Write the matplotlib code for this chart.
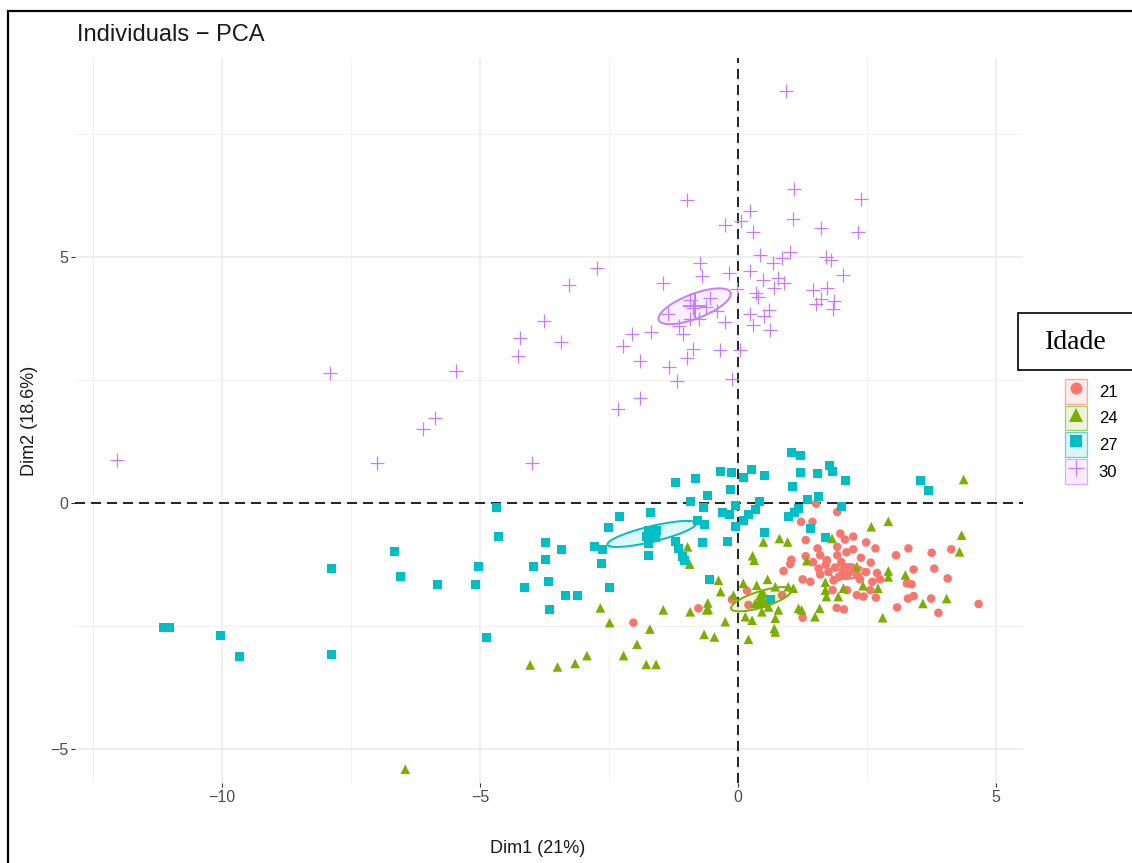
import numpy as np
import matplotlib
matplotlib.use("Agg")
import matplotlib.pyplot as plt
from matplotlib.patches import Rectangle
from matplotlib.lines import Line2D
from matplotlib.legend_handler import HandlerTuple
from matplotlib.colors import to_rgba

plt.rcParams["font.family"] = ["Liberation Sans", "DejaVu Sans"]

# --- data (PCA individual coordinates) ---
groups = ["21", "24", "27", "30"]

x21 = [1.51, 1.92, 1.22, 1.44, 1.98, 2.07, 2.23, 1.31, 1.54, 1.92,
       2.23, 2.48, 2.66, 3.30, 3.75, 4.13, 3.06, 1.59, 1.72, 1.92,
       2.38, 2.57, 1.31, 1.03, 1.01, 0.88, 1.56, 1.59, 1.88, 2.20,
       2.48, 2.69, 2.75, 3.80, 3.40, 4.06, 3.27, 3.36, 1.25, 1.40,
       1.85, 2.36, 1.83, 2.11, 2.30, 2.43, 2.67, 2.56, 3.08, 3.29,
       3.40, 3.74, 3.88, 4.66, 1.91, 2.05, 1.25, 0.85, 0.17, 0.20,
       -0.77, -0.12, -2.03, 1.70, 2.00, 1.75, 2.30, 1.95, 2.10, 1.45,
       2.60]
y21 = [-0.01, -0.18, -0.38, -0.38, -0.62, -0.74, -0.68, -0.75, -0.92, -0.89,
       -0.94, -0.80, -0.92, -0.92, -1.01, -0.94, -1.06, -1.06, -1.16, -1.06,
       -1.11, -1.21, -1.08, -1.15, -1.24, -1.38, -1.33, -1.45, -1.31, -1.31,
       -1.40, -1.42, -1.55, -1.33, -1.35, -1.53, -1.63, -1.65, -1.55, -1.60,
       -1.57, -1.55, -1.77, -1.77, -1.87, -1.90, -1.92, -1.77, -2.12, -1.94,
       -1.89, -1.94, -2.23, -2.05, -2.13, -2.16, -2.33, -1.87, -1.78, -2.07,
       -2.14, -1.96, -2.43, -1.25, -1.20, -1.40, -1.45, -1.50, -1.00, -1.20,
       -1.60]

x24 = [-6.45, -4.03, -3.50, -3.16, -2.93, -2.67, -2.49, -2.22, -1.96, -1.78,
       -1.59, -1.71, -1.45, -0.93, -0.98, -0.94, -0.59, -0.58, -0.38, -0.34,
       -0.09, -0.25, -0.66, -0.46, 0.20, 0.28, 0.31, 0.49, 0.80, 0.96,
       0.10, 0.36, 0.57, 0.72, 0.97, 1.07, 0.43, 0.33, 0.59, 0.46,
       0.78, 0.14, 0.27, 0.72, 0.70, 0.72, 1.17, 1.23, -0.61, 4.37,
       2.91, 2.58, 4.33, 4.29, 1.82, 1.33, 2.91, 3.24, 2.91, 2.30,
       1.69, 1.69, 1.71, 1.94, 2.04, 2.42, 2.71, 4.04, 3.58, 2.80,
       1.58, 1.49, 0.49]
y24 = [-5.41, -3.29, -3.33, -3.26, -3.10, -2.13, -2.43, -3.10, -2.87, -3.28,
       -3.28, -2.56, -2.17, -2.21, -0.89, -1.24, -2.03, -2.16, -1.57, -1.80,
       -1.87, -2.41, -2.67, -2.72, -2.77, -1.07, -1.16, -0.79, -0.72, -0.79,
       -1.63, -1.67, -1.55, -1.70, -1.70, -1.73, -1.87, -2.04, -2.11, -2.21,
       -2.17, -2.31, -2.38, -2.34, -2.55, -2.62, -2.14, -2.17, -2.17, 0.48,
       -0.37, -0.48, -0.65, -0.99, -0.72, -1.17, -1.38, -1.46, -1.50, -1.29,
       -1.61, -1.77, -1.90, -1.90, -1.73, -1.68, -1.73, -1.94, -2.04, -2.33,
       -2.14, -2.31, -1.84]

x27 = [-11.14, -11.01, -10.03, -9.66, -7.87, -7.87, -6.65, -6.55, -5.82, -5.03,
       -5.08, -4.88, -4.68, -4.65, -4.14, -3.97, -3.74, -3.74, -3.42, -3.68,
       -3.66, -3.34, -3.11, -2.78, -2.62, -2.64, -2.49, -2.51, -2.29, -1.70,
       -1.74, -1.74, -1.21, -0.83, -0.35, -0.12, -0.14, -0.59, -0.92, -0.68,
       -0.79, -0.66, -1.21, -1.15, -1.08, -1.04, -0.70, -0.21, -0.30, -0.17,
       -0.06, -0.06, 0.10, 0.25, 0.52, 0.10, 0.21, 0.33, 0.41, 0.52,
       -0.56, 1.04, 1.20, 1.21, 1.54, 1.78, 1.82, 2.09, 1.05, 1.35,
       1.56, 1.17, 1.09, 0.97, 2.01, 1.40, 1.69, 3.53, 3.69, 0.62,
       -1.77, -1.58]
y27 = [-2.53, -2.53, -2.70, -3.11, -1.33, -3.08, -0.98, -1.50, -1.65, -1.29,
       -1.65, -2.73, -0.09, -0.68, -1.71, -1.29, -1.15, -0.80, -0.94, -1.60,
       -2.16, -1.87, -1.88, -0.89, -0.94, -1.23, -1.71, -0.49, -0.27, -0.19,
       -0.82, -1.07, 0.42, 0.51, 0.64, 0.62, 0.28, 0.16, 0.04, -0.09,
       -0.35, -0.43, -0.79, -0.93, -1.09, -1.16, -0.80, -0.79, -0.19, -0.24,
       -0.04, -0.48, 0.52, 0.68, 0.57, -0.35, -0.24, -0.13, 0.03, -0.60,
       -1.55, 1.03, 0.96, 0.62, 0.60, 0.77, 0.64, 0.47, 0.33, 0.07,
       0.13, -0.11, -0.20, -0.28, -0.07, -0.51, -0.70, 0.45, 0.26, -1.96,
       -0.68, -0.55]

x30 = [-12.03, -7.91, -7.00, -6.10, -5.87, -5.47, -4.26, -4.22, -4.00, -3.76,
       -3.44, -3.28, -2.74, -2.32, -2.23, -2.06, -1.91, -1.90, -1.69, -1.45,
       -1.35, -1.34, -1.18, -1.14, -1.06, -0.99, -0.99, -0.94, -0.93, -0.87,
       -0.87, -0.75, -0.74, -0.70, -0.62, -0.54, -0.41, -0.35, -0.25, -0.25,
       -0.18, -0.12, -0.03, 0.04, 0.06, 0.23, 0.23, 0.23, 0.28, 0.29,
       0.35, 0.39, 0.42, 0.49, 0.51, 0.59, 0.62, 0.67, 0.70, 0.78,
       0.85, 0.88, 0.93, 1.01, 1.06, 1.09, 1.46, 1.51, 1.61, 1.61,
       1.70, 1.73, 1.80, 1.83, 1.85, 2.03, 2.32, 2.39]
y30 = [0.87, 2.65, 0.81, 1.50, 1.74, 2.69, 2.99, 3.35, 0.81, 3.71,
       3.27, 4.43, 4.79, 1.92, 3.19, 3.43, 2.89, 2.14, 3.48, 4.47,
       3.84, 2.77, 2.49, 3.60, 3.43, 6.17, 2.95, 4.14, 3.75, 3.96,
       3.14, 3.75, 4.88, 4.61, 3.99, 4.18, 3.91, 3.11, 5.66, 3.69,
       4.68, 2.53, 4.36, 3.11, 5.73, 5.93, 4.71, 3.84, 3.62, 5.52,
       4.28, 4.19, 5.05, 4.53, 3.80, 3.92, 3.52, 4.88, 4.37, 4.57,
       4.99, 4.48, 8.37, 5.10, 5.77, 6.38, 4.33, 4.04, 5.60, 4.16,
       5.01, 4.37, 4.94, 3.94, 4.11, 4.63, 5.52, 6.19]

COORDS = {"21": (x21, y21), "24": (x24, y24), "27": (x27, y27), "30": (x30, y30)}
COLOR = {"21": "#F8766D", "24": "#7CAE00", "27": "#00BFC4", "30": "#C77CFF"}
MARKER = {"21": "o", "24": "^", "27": "s", "30": "+"}
SIZE = {"21": 38, "24": 48, "27": 42, "30": 115}
LEGEND_MS = {"21": 8.6, "24": 9.5, "27": 8.2, "30": 11}

W, H = 1132, 863
fig = plt.figure(figsize=(W / 100, H / 100), dpi=100)
L, R, T, B = 75, 1023, 58, 783
ax = fig.add_axes([L / W, 1 - B / H, (R - L) / W, (B - T) / H])


def conf_ellipse(x, y, level_t=np.sqrt(5.991), n=200):
    """Confidence ellipse of the group mean (cov / n)."""
    x, y = np.asarray(x), np.asarray(y)
    cov = np.cov(x, y) / len(x)
    vals, vecs = np.linalg.eigh(cov)
    th = np.linspace(0, 2 * np.pi, n)
    circ = np.vstack([np.cos(th), np.sin(th)])
    pts = vecs @ (np.sqrt(vals)[:, None] * circ) * level_t
    return x.mean() + pts[0], y.mean() + pts[1]


ax.axhline(0, color="black", lw=1.2, ls=(0, (6, 3.6)), zorder=1.5)
ax.axvline(0, color="black", lw=1.2, ls=(0, (6, 3.6)), zorder=1.5)

for g in groups:
    x, y = COORDS[g]
    c = COLOR[g]
    if MARKER[g] == "+":
        ax.scatter(x, y, s=SIZE[g], marker="+", color=c, linewidths=0.9, zorder=3)
    else:
        ax.scatter(x, y, s=SIZE[g], marker=MARKER[g], color=c, edgecolors="none", zorder=3)

for g in groups:
    x, y = COORDS[g]
    c = COLOR[g]
    ex, ey = conf_ellipse(x, y)
    ax.fill(ex, ey, color=c, alpha=0.12, lw=0, zorder=4)
    ax.plot(ex, ey, color=c, lw=1.4, zorder=4)
    if MARKER[g] == "+":
        ax.scatter(np.mean(x), np.mean(y), s=SIZE[g] * 2.4, marker="+", color=c,
                   linewidths=1.4, zorder=5)
    else:
        ax.scatter(np.mean(x), np.mean(y), s=SIZE[g] * 3, marker=MARKER[g], color=c,
                   edgecolors="none", zorder=5)

ax.set_xlim(-12.85, 5.52)
ax.set_ylim(-5.69, 9.05)
ax.set_xticks([-10, -5, 0, 5])
ax.set_yticks([-5, 0, 5])
ax.set_xticks([-12.5, -7.5, -2.5, 2.5], minor=True)
ax.set_yticks([-2.5, 2.5, 7.5], minor=True)
ax.grid(which="major", color="#EBEBEB", lw=1.1, zorder=0)
ax.grid(which="minor", color="#F2F2F2", lw=0.7, zorder=0)
ax.set_axisbelow(True)
for s in ax.spines.values():
    s.set_visible(False)
ax.tick_params(which="major", length=3, width=0.8, color="#333333",
               labelsize=11.5, labelcolor="#4D4D4D", pad=2)
ax.tick_params(which="minor", length=0)

ax.set_xlabel("Dim1 (21%)", fontsize=13, color="#1A1A1A")
ax.set_ylabel("Dim2 (18.6%)", fontsize=13, color="#1A1A1A")
ax.xaxis.set_label_coords((538 - L) / (R - L), (B - 840) / (B - T))
ax.yaxis.set_label_coords((38 - L) / (R - L), 0.5)

fig.text(77 / W, 1 - 35 / H, "Individuals \u2212 PCA", fontsize=17,
         color="#1A1A1A", ha="left", va="center")

# legend
handles = []
for g in groups:
    c = COLOR[g]
    box = Rectangle((0, 0), 1, 1, facecolor=to_rgba(c, 0.14),
                    edgecolor=to_rgba(c, 0.6), lw=0.9)
    kw = dict(ls="none", marker=MARKER[g], color=c, markersize=LEGEND_MS[g])
    if MARKER[g] == "+":
        kw["markeredgewidth"] = 0.9
    else:
        kw["markeredgewidth"] = 0
    handles.append((box, Line2D([], [], **kw)))
fig.legend(handles, groups, handler_map={tuple: HandlerTuple(ndivide=1)},
           loc="upper left", bbox_to_anchor=(1065 / W, 1 - 379 / H),
           frameon=False, fontsize=12, numpoints=1, handlelength=1.32,
           handleheight=1.9, labelspacing=0.12, handletextpad=0.7,
           borderpad=0, borderaxespad=0)

# boxed legend title
fig.add_artist(Rectangle((1018 / W, 1 - 370 / H), (W - 1018 + 5) / W, 57 / H,
                         transform=fig.transFigure, facecolor="white",
                         edgecolor="black", lw=1.2))
fig.text(1076 / W, 1 - 342 / H, "Idade", fontsize=20, ha="center", va="center",
         family=["Liberation Serif", "DejaVu Serif"], color="black")

# outer frame
fig.add_artist(Rectangle((8 / W, -0.01), 1.0, 1 - 11 / H + 0.01,
                         transform=fig.transFigure, fill=False,
                         edgecolor="black", lw=1.6))

fig.savefig("out.png", dpi=100)
